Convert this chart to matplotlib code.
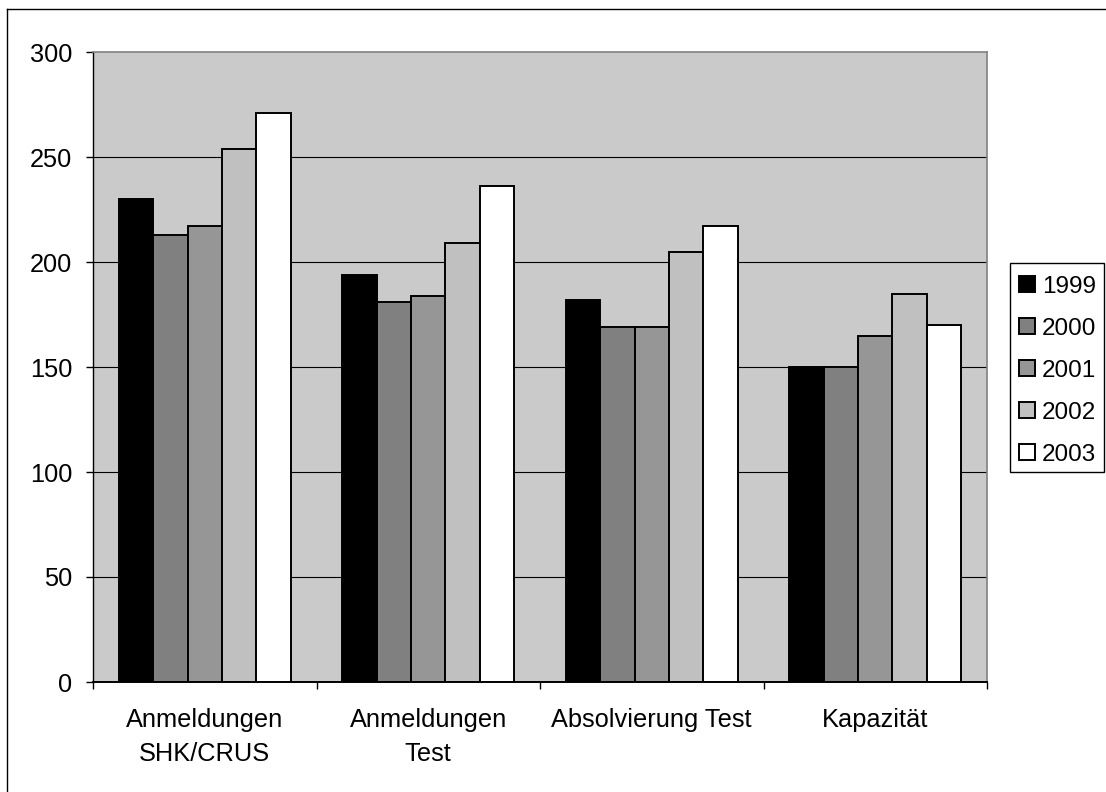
import matplotlib
matplotlib.use("Agg")
import matplotlib.pyplot as plt
import numpy as np
from matplotlib.lines import Line2D
from matplotlib.patches import Patch, Rectangle

categories = ["Anmeldungen\nSHK/CRUS", "Anmeldungen\nTest", "Absolvierung Test", "Kapazität"]
years = ["1999", "2000", "2001", "2002", "2003"]
v1999 = [230, 194, 182, 150]
v2000 = [213, 181, 169, 150]
v2001 = [217, 184, 169, 165]
v2002 = [254, 209, 205, 185]
v2003 = [271, 236, 217, 170]
yticks = [0, 50, 100, 150, 200, 250, 300]

series = [v1999, v2000, v2001, v2002, v2003]
colors = ["#000000", "#808080", "#969696", "#C0C0C0", "#FFFFFF"]

plt.rcParams["font.family"] = ["Liberation Sans", "DejaVu Sans"]
FS = 18.3

W, H = 1106, 792
fig = plt.figure(figsize=(W / 100, H / 100), dpi=100)
ax = fig.add_axes([93 / W, 1 - 682 / H, (987 - 93) / W, (682 - 52) / H])
ax.set_facecolor("#CACACA")

x = np.arange(len(categories))
bw = 1 / 6.5
for i, (vals, col) in enumerate(zip(series, colors)):
    ax.bar(x + (i - 2) * bw, vals, width=bw, color=col, edgecolor="black",
           linewidth=1.4, label=years[i], zorder=3)

ax.set_xlim(-0.5, len(categories) - 0.5)
ax.set_ylim(0, 300)
ax.set_yticks(yticks)
ax.set_yticklabels([str(t) for t in yticks], fontsize=FS)
ax.set_xticks(np.arange(len(categories) + 1) - 0.5, minor=False)
ax.set_xticklabels([])
ax.set_xticks(x, minor=True)
ax.set_xticklabels(categories, minor=True, fontsize=FS, linespacing=1.5)
ax.tick_params(axis="x", which="minor", length=0, pad=19)
ax.tick_params(axis="x", which="major", length=5, width=1, direction="out")
ax.tick_params(axis="y", length=5, width=1, direction="out", pad=10)
for t in yticks[1:-1]:
    ax.axhline(t, color="black", linewidth=0.8, zorder=1)

ax.spines["left"].set_color("black")
ax.spines["bottom"].set_color("black")
ax.spines["left"].set_linewidth(1)
ax.spines["bottom"].set_linewidth(1.4)
ax.spines["bottom"].set_zorder(4)
ax.spines["top"].set_color("#808080")
ax.spines["right"].set_color("#808080")
ax.spines["top"].set_linewidth(1.2)
ax.spines["right"].set_linewidth(1.2)

handles = [Patch(facecolor=c, edgecolor="black", linewidth=1.4) for c in colors]
fig.legend(handles, years, loc="upper left",
           bbox_to_anchor=(1019 / W, 1 - 276 / H), fontsize=17.5,
           frameon=False, handlelength=0.64, handleheight=0.64,
           handletextpad=0.3, labelspacing=0.82, borderpad=0, borderaxespad=0)
# legend frame
fig.add_artist(Rectangle((1010 / W, 1 - 472 / H), 94 / W, 209 / H, fill=False,
                         edgecolor="black", linewidth=1, transform=fig.transFigure))

# outer chart border
fig.add_artist(Line2D([7 / W, 7 / W], [0, 1 - 9 / H], color="black", linewidth=1,
                      transform=fig.transFigure))
fig.add_artist(Line2D([7 / W, 1], [1 - 9 / H, 1 - 9 / H], color="black", linewidth=1,
                      transform=fig.transFigure))

fig.savefig("out.png", dpi=100)
